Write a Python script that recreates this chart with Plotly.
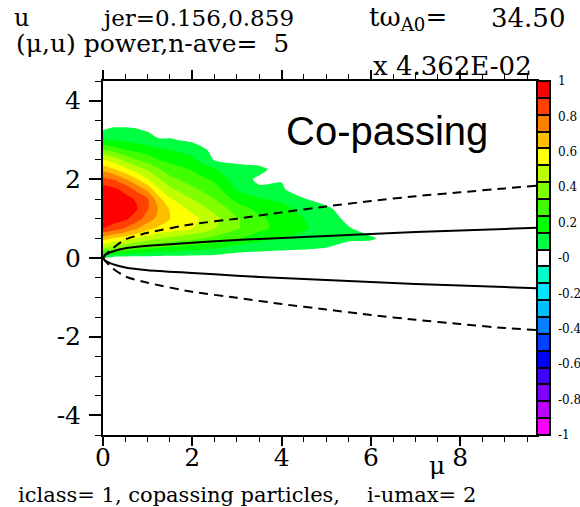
import plotly.graph_objects as go

# ---------------------------------------------------------------- data
# (mu, u) power map, rows follow u_grid, columns follow mu_grid
mu_grid = [0.0, 0.25, 0.5, 0.75, 1.0, 1.25, 1.5, 2.0, 2.5, 3.0, 3.5, 4.0, 4.5, 5.0, 5.5, 6.0, 6.5]
u_grid = [0.0, 0.25, 0.5, 0.75, 1.0, 1.25, 1.5, 1.75, 2.0, 2.25, 2.5, 2.75, 3.0, 3.25, 3.5]
power = [
    [0.06, 0.00, 0.00, 0.00, 0.00, 0.00, 0.00, 0.00, 0.00, 0.00, 0.00, 0.00, 0.00, 0.00, 0.00, 0.00, 0.00],
    [0.45, 0.40, 0.35, 0.30, 0.27, 0.24, 0.22, 0.19, 0.16, 0.095, 0.075, 0.065, 0.058, 0.048, 0.00, 0.00, 0.00],
    [0.70, 0.64, 0.60, 0.55, 0.50, 0.46, 0.43, 0.38, 0.32, 0.26, 0.19, 0.15, 0.12, 0.10, 0.075, 0.065, 0.00],
    [0.95, 0.90, 0.84, 0.76, 0.68, 0.63, 0.60, 0.55, 0.45, 0.36, 0.28, 0.21, 0.16, 0.11, 0.06, 0.00, 0.00],
    [1.00, 1.00, 0.97, 0.90, 0.80, 0.72, 0.65, 0.58, 0.48, 0.36, 0.27, 0.21, 0.15, 0.11, 0.02, 0.00, 0.00],
    [1.00, 0.98, 0.97, 0.96, 0.86, 0.74, 0.64, 0.52, 0.42, 0.30, 0.22, 0.18, 0.12, 0.07, 0.00, 0.00, 0.00],
    [1.00, 1.00, 0.98, 0.94, 0.86, 0.68, 0.56, 0.45, 0.35, 0.22, 0.16, 0.13, 0.055, 0.01, 0.00, 0.00, 0.00],
    [1.00, 0.97, 0.92, 0.82, 0.72, 0.56, 0.47, 0.37, 0.29, 0.14, 0.065, 0.06, 0.00, 0.00, 0.00, 0.00, 0.00],
    [0.88, 0.84, 0.76, 0.66, 0.55, 0.46, 0.38, 0.30, 0.23, 0.10, 0.03, 0.045, 0.00, 0.00, 0.00, 0.00, 0.00],
    [0.72, 0.66, 0.58, 0.50, 0.44, 0.36, 0.30, 0.24, 0.16, 0.09, 0.08, 0.00, 0.00, 0.00, 0.00, 0.00, 0.00],
    [0.56, 0.50, 0.42, 0.35, 0.30, 0.25, 0.22, 0.17, 0.04, 0.02, 0.00, 0.00, 0.00, 0.00, 0.00, 0.00, 0.00],
    [0.36, 0.30, 0.25, 0.22, 0.20, 0.17, 0.15, 0.11, 0.02, 0.00, 0.00, 0.00, 0.00, 0.00, 0.00, 0.00, 0.00],
    [0.15, 0.14, 0.13, 0.12, 0.10, 0.06, 0.06, 0.03, 0.00, 0.00, 0.00, 0.00, 0.00, 0.00, 0.00, 0.00, 0.00],
    [0.05, 0.07, 0.07, 0.06, 0.04, 0.00, 0.00, 0.00, 0.00, 0.00, 0.00, 0.00, 0.00, 0.00, 0.00, 0.00, 0.00],
    [0.00, 0.00, 0.00, 0.00, 0.00, 0.00, 0.00, 0.00, 0.00, 0.00, 0.00, 0.00, 0.00, 0.00, 0.00, 0.00, 0.00],
]

# passing / trapped boundaries
mu_curve = [0.0, 0.05, 0.2, 0.5, 1.0, 2.0, 3.0, 4.0, 5.0, 6.0, 7.0, 8.0, 9.0, 9.72]
solid_upper = [0.0, 0.08, 0.16, 0.25, 0.31, 0.39, 0.46, 0.51, 0.56, 0.61, 0.66, 0.70, 0.74, 0.77]
solid_lower = [0.0, -0.07, -0.15, -0.24, -0.31, -0.38, -0.45, -0.51, -0.56, -0.61, -0.66, -0.70, -0.74, -0.77]
dashed_upper = [0.0, 0.07, 0.23, 0.47, 0.64, 0.86, 1.00, 1.16, 1.31, 1.45, 1.57, 1.67, 1.77, 1.84]
dashed_lower = [0.0, -0.07, -0.25, -0.47, -0.63, -0.86, -1.01, -1.17, -1.31, -1.45, -1.57, -1.68, -1.78, -1.83]

# colour scale: one box per level
scale_levels = [-1.0, -0.9, -0.8, -0.7, -0.6, -0.5, -0.4, -0.3, -0.2, -0.1, 0.0,
                0.1, 0.2, 0.3, 0.4, 0.5, 0.6, 0.7, 0.8, 0.9, 1.0]
scale_colors = ["#ff00ff", "#bf00ff", "#8000ff", "#4000ff", "#0000ff", "#0040ff", "#0080ff",
                "#00bfff", "#00e6ff", "#00ffc8", "#ffffff",
                "#00ff40", "#00ff00", "#40ff00", "#80ff00", "#bfff00", "#ffff00",
                "#ffbf00", "#ff8000", "#ff4000", "#ff0000"]
scale_tickvals = [-1.0, -0.8, -0.6, -0.4, -0.2, 0.0, 0.2, 0.4, 0.6, 0.8, 1.0]
scale_ticktext = ["-1", "-0.8", "-0.6", "-0.4", "-0.2", "-0", "0.2", "0.4", "0.6", "0.8", "1"]

x_tickvals = [0, 2, 4, 6, 8]
x_ticktext = ["0", "2", "4", "6", "8"]
y_tickvals = [-4, -2, 0, 2, 4]
y_ticktext = ["-4", "-2", "0", "2", "4"]

# ---------------------------------------------------------------- layout helpers
W, H = 580, 507
ML, MR, MT, MB = 103, 30, 81, 72
PLOT_RIGHT = 537          # right edge of the (mu, u) frame in pixels
x_split = (PLOT_RIGHT - ML) / (W - ML - MR)


def px(x):
    return (x - ML) / (W - ML - MR)


def py(y):
    return (H - MB - y) / (H - MT - MB)


SERIF = "DejaVu Serif"

# contour fill uses the non-negative half of the scale (0 -> white background)
pos = [i for i, lv in enumerate(scale_levels) if lv >= 0]
contour_scale = [[scale_levels[i], scale_colors[i]] for i in pos]
bar_scale = [[(lv + 1) / 2, c] for lv, c in zip(scale_levels, scale_colors)]

fig = go.Figure()

fig.add_trace(go.Contour(
    x=mu_grid, y=u_grid, z=power,
    contours=dict(start=0.05, end=0.95, size=0.1, coloring="fill", showlines=False),
    colorscale=contour_scale, showscale=False,
    line=dict(width=0, smoothing=0.7),
    hoverinfo="skip",
))

for ys, dash in [(solid_upper, "solid"), (solid_lower, "solid"),
                 (dashed_upper, "9px,6px"), (dashed_lower, "9px,6px")]:
    fig.add_trace(go.Scatter(
        x=mu_curve, y=ys, mode="lines",
        line=dict(color="black", width=2, dash=dash, shape="spline", smoothing=0.6),
        hoverinfo="skip",
    ))

# colour bar drawn as a one-column heatmap of the levels
n_lv = len(scale_levels)
box_centres = [-1 + (i + 0.5) * 2 / n_lv for i in range(n_lv)]
fig.add_trace(go.Heatmap(
    x=[0], y=box_centres, z=[[lv] for lv in scale_levels],
    colorscale=bar_scale, zmin=-1, zmax=1, showscale=False,
    xgap=2, ygap=2, xaxis="x2", yaxis="y2", hoverinfo="skip",
))

fig.add_shape(type="rect", xref="x2 domain", yref="y2 domain", x0=0, x1=1, y0=0, y1=1,
              fillcolor="black", line=dict(color="black", width=2), layer="below")

axis_font = dict(family=SERIF, size=25, color="black")

fig.update_layout(
    width=W, height=H,
    margin=dict(l=ML, r=MR, t=MT, b=MB, pad=0, autoexpand=False),
    paper_bgcolor="white", plot_bgcolor="white",
    showlegend=False,
    xaxis=dict(
        domain=[0, x_split], range=[0, 9.72], automargin=False,
        tickvals=x_tickvals, ticktext=x_ticktext, tickfont=axis_font,
        ticks="outside", ticklen=9, tickwidth=1.5, tickcolor="black",
        minor=dict(dtick=0.5, tick0=0, ticks="outside", ticklen=5, tickwidth=1.2, tickcolor="black"),
        showline=True, linewidth=2, linecolor="black", mirror="allticks",
        showgrid=False, zeroline=False, ticklabelstandoff=-10,
    ),
    yaxis=dict(
        domain=[0, 1], range=[-4.5, 4.5], automargin=False,
        tickvals=y_tickvals, ticktext=y_ticktext, tickfont=axis_font,
        ticks="outside", ticklen=12, tickwidth=1.5, tickcolor="black",
        minor=dict(dtick=0.5, tick0=0, ticks="outside", ticklen=6, tickwidth=1.2, tickcolor="black"),
        showline=True, linewidth=2, linecolor="black", mirror=True,
        showgrid=False, zeroline=False, ticklabelstandoff=3,
    ),
    xaxis2=dict(
        domain=[x_split, 1], range=[-0.5, 0.5], anchor="y2", automargin=False,
        showticklabels=False, ticks="", showgrid=False, zeroline=False, showline=False,
    ),
    yaxis2=dict(
        domain=[0, 1], range=[-1, 1], anchor="x2", side="right", automargin=False,
        tickvals=scale_tickvals, ticktext=scale_ticktext,
        tickfont=dict(family=SERIF, size=12, color="black"),
        ticks="", showgrid=False, zeroline=False, showline=False, ticklabelstandoff=7,
    ),
)

labels = [
    ("u", 12, 18, 24),
    ("jer=0.156,0.859", 99, 18, 23),
    ("tω<sub>A0</sub>=", 367, 19, 26),
    ("34.50", 489, 18, 26),
    ("(μ,u) power,n-ave=  5", 14, 44, 25),
    ("x 4.362E-02", 371, 66, 26),
    ("iclass= 1, copassing particles,", 16, 495, 21),
    ("i-umax= 2", 365, 495, 21),
    ("μ", 427, 466, 25),
]
for text, x, y, size in labels:
    fig.add_annotation(text=text, xref="paper", yref="paper", x=px(x), y=py(y),
                       xanchor="left", yanchor="middle", showarrow=False,
                       font=dict(family=SERIF, size=size, color="black"))

fig.add_annotation(text="Co-passing", xref="paper", yref="paper", x=px(284), y=py(131),
                   xanchor="left", yanchor="middle", showarrow=False,
                   font=dict(family="Liberation Sans", size=40, color="black"))

fig.write_html("out.html", config={"displayModeBar": False})
